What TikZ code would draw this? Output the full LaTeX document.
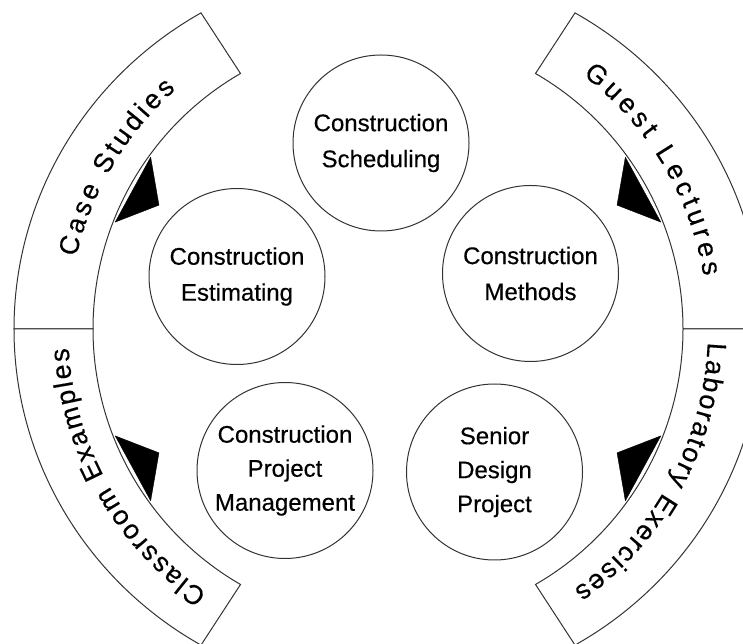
\documentclass[tikz,border=0pt]{standalone}
\usepackage{fontspec}
\setmainfont{Liberation Sans}[FakeBold=0.35]
\usetikzlibrary{decorations.text}
\begin{document}
\begin{tikzpicture}[x=1pt,y=1pt,
  band/.style={draw=black!80, line width=1pt, fill=white},
  bubble/.style={draw=black!80, line width=1pt, circle, minimum size=176pt, inner sep=0pt, align=center, font=\fontsize{24}{36}\selectfont\addfontfeature{FakeBold=0.35}},
  bubblethree/.style={bubble, font=\fontsize{24}{34}\selectfont\addfontfeature{FakeBold=0.35}},
  wedge/.style={fill=black, draw=black, line width=0.4pt, line join=round},
  arctext/.style={decorate, decoration={text along path, text align=fit to path, text={|\fontsize{27}{27}\selectfont\addfontfeature{FakeBold=0.35}|#1}}}
]
\useasboundingbox (0,0) rectangle (743,644);
\clip (0,0) rectangle (743,644);
\coordinate (C) at (388,315);

\begin{scope}[shift={(388,315)}]
  % bands
  \draw[band] (120:295) -- (120:374 and 365) arc[start angle=120, end angle=180, x radius=374, y radius=365] -- (180:295) arc[start angle=180, end angle=120, radius=295] -- cycle;
  \draw[band] (180:295) -- (180:374 and 365) arc[start angle=180, end angle=240, x radius=374, y radius=365] -- (240:295) arc[start angle=240, end angle=180, radius=295] -- cycle;
  \draw[band] (0:295) -- (0:374 and 365) arc[start angle=0, end angle=60, x radius=374, y radius=365] -- (60:295) arc[start angle=60, end angle=0, radius=295] -- cycle;
  \draw[band] (-60:295) -- (-60:374 and 365) arc[start angle=-60, end angle=0, x radius=374, y radius=365] -- (0:295) arc[start angle=0, end angle=-60, radius=295] -- cycle;

  % band texts
  \path[arctext={Case Studies}] (167:320) arc[start angle=167, end angle=131.5, radius=320];
  \path[arctext={Guest Lectures}] (52.5:320) arc[start angle=52.5, end angle=9.5, radius=320];
  \path[arctext={Classroom Examples}] (235.6:320) arc[start angle=235.6, end angle=183.4, radius=320];
  \path[arctext={Laboratory Exercises}] (-2.4:320) arc[start angle=-2.4, end angle=-54.5, radius=320];

  % wedges
  \filldraw[wedge] (144.1:293) -- (151.6:260.4) -- (158.6:293) -- cycle;
  \filldraw[wedge] (35.9:293) -- (28.4:260.4) -- (21.4:293) -- cycle;
  \filldraw[wedge] (215.9:293) -- (208.4:260.4) -- (201.4:293) -- cycle;
  \filldraw[wedge] (-35.9:293) -- (-28.4:260.4) -- (-21.4:293) -- cycle;
\end{scope}

% circles
\node[bubble] (sched) at (381,501) {Construction\\Scheduling};
\node[bubble] (estim) at (237,367.5) {Construction\\Estimating};
\node[bubble] (meth) at (530.5,370.5) {Construction\\Methods};
\node[bubblethree] (cpm) at (285,173.5) {Construction\\Project\\Management};
\node[bubblethree] (sdp) at (494.5,172) {Senior\\Design\\Project};
\end{tikzpicture}
\end{document}
